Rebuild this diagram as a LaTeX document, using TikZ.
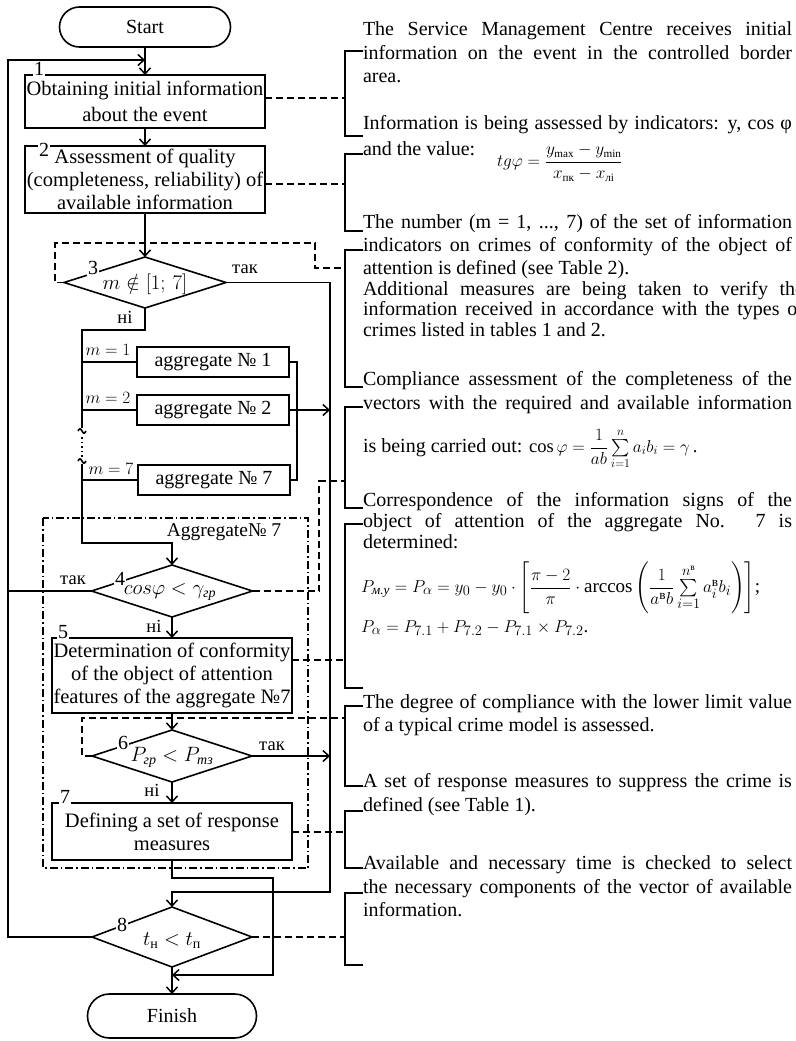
\documentclass[tikz,border=0pt]{standalone}
\usepackage{amsmath}
\usepackage{fontspec}
\setmainfont{Liberation Serif}
\usetikzlibrary{shapes.geometric,arrows.meta,calc}
\newcommand\jline[3]{\node[rt] (#1) at (363,#2) {\makebox[429pt][s]{#3}};}
\newcommand\wline[3]{\node[rt] (#1) at (363,#2) {\makebox[441pt][s]{#3}};}
\newcommand\lline[3]{\node[rt] (#1) at (363,#2) {#3};}
\tikzset{
  x=1pt,y=-1pt,
  every node/.style={inner sep=0pt,outer sep=0pt},
  ln/.style={line width=1.6pt},
  arr/.style={line width=1.6pt,-{Straight Barb[length=6pt,width=11pt,line width=1.5pt]}},
  dsh/.style={line width=1.3pt,dash pattern=on 7pt off 4pt},
  dashdot/.style={line width=1.3pt,dash pattern=on 8pt off 3pt on 1.5pt off 3pt},
  box/.style={draw,line width=1.6pt,align=center,minimum width=240pt,font=\fontsize{20.5}{23}\selectfont},
  term/.style={draw,line width=1.6pt,rounded corners=20pt,font=\fontsize{20}{24}\selectfont},
  dia/.style={draw,line width=1.6pt,diamond,aspect=3.1},
  agg/.style={draw,line width=1.6pt,minimum width=152pt,minimum height=30pt,font=\fontsize{20}{22}\selectfont},
  num/.style={fill=white,inner sep=1pt,font=\fontsize{20}{24}\selectfont},
  lab/.style={font=\fontsize{18.5}{22}\selectfont},
  mlab/.style={font=\fontsize{18}{22}\selectfont},
  dtext/.style={font=\fontsize{20}{24}\selectfont},
  rt/.style={anchor=mid west,font=\fontsize{20}{24}\selectfont},
  brk/.style={line width=1.6pt},
}
\begin{document}
\begin{tikzpicture}
\useasboundingbox (0,0) rectangle (795,1041);
% ---------------- flowchart nodes
\node[term,minimum width=171pt,minimum height=40pt] (start) at (145,27) {Start};
\node[box,minimum height=53pt,font=\fontsize{20.5}{26}\selectfont] (b1) at (145,101.5) {Obtaining initial information\\about the event};
\node[box,minimum height=67pt] (b2) at (145,179.5) {Assessment of quality\\(completeness, reliability) of\\available information};
\node[dia,minimum width=162pt,minimum height=51pt] (d3) at (145,282.5) {};
\node[dtext] (d3t) at (145,284) {$m\notin[1;\,7]$};
\node[agg] (a1) at (213,362) {aggregate № 1};
\node[agg] (a2) at (213,410) {aggregate № 2};
\node[agg] (a7) at (214,480) {aggregate № 7};
\node[dia,minimum width=161pt,minimum height=52pt] (d4) at (172,591) {};
\node[dtext] (d4t) at (170,592) {$cos\varphi < \gamma_{\text{\itshape гр}}$};
\node[box,minimum height=75pt] (b5) at (172,675.5) {Determination of conformity\\of the object of attention\\features of the aggregate №7};
\node[dia,minimum width=160pt,minimum height=52pt] (d6) at (172,756) {};
\node[dtext] (d6t) at (172,757) {$P_{\text{\itshape гр}} < P_{\text{\itshape тз}}$};
\node[box,minimum height=57pt] (b7) at (172,831.5) {Defining a set of response\\measures};
\node[dia,minimum width=160pt,minimum height=60pt] (d8) at (172,937) {};
\node[dtext] (d8t) at (172,941) {$t_{\text{н}} < t_{\text{п}}$};
\node[term,minimum width=169pt,minimum height=44pt,rounded corners=22pt] (fin) at (172,1016) {Finish};
% enclosure of aggregate 7
\draw[dashdot] (43,518) rectangle (308,868);
\node[font=\fontsize{19.5}{22}\selectfont] (aggt) at (224,532) {Aggregate№ 7};
% ---------------- coordinates
\coordinate (Jtop) at (145,60);
\coordinate (Ltop) at (8,60);
\coordinate (L8) at (8,937);
\coordinate (L4) at (8,591);
\coordinate (R3) at (330,282.5);
\coordinate (R3b) at (330,892);
\coordinate (J8) at (172,892);
\coordinate (n1) at (145,330);
\coordinate (bus0) at (82,330);
\coordinate (busA) at (82,428);
\coordinate (busB) at (82,464);
\coordinate (busC) at (82,543);
\coordinate (busD) at (172,543);
\coordinate (ra) at (297,362);
\coordinate (rb) at (297,480);
\coordinate (c1) at (172,878);
\coordinate (c2) at (273,878);
\coordinate (c3) at (273,975);
\coordinate (c4) at (172,975);
% ---------------- connectors
\draw[arr] (start.south) -- (b1.north);
\draw[arr] (b1.south) -- (b2.north);
\draw[arr] (b2.south) -- (d3.north);
\draw[arr] (d8.west) -- (L8) -- (Ltop) -- (Jtop);
\draw[ln] (d4.west) -- (L4);
\draw[arr] (d3.east) -- (R3) -- (R3b) -- (J8) -- (d8.north);
\draw[ln] (d3.south) -- (n1) -- (bus0) -- (busA);
\draw[ln] (78,431) sin (80,428.8) cos (82,431) sin (84,433.2) cos (86,431);
\draw[line width=1.6pt,dash pattern=on 1.6pt off 3pt] (82,437) -- (82,457);
\draw[ln] (78,461) sin (80,458.8) cos (82,461) sin (84,463.2) cos (86,461);
\draw[arr] (busB) -- (busC) -- (busD) -- (d4.north);
\draw[ln] (a1.west -| bus0) -- (a1.west);
\draw[ln] (a2.west -| bus0) -- (a2.west);
\draw[ln] (a7.west -| bus0) -- (a7.west);
\draw[ln] (a1.east) -- (ra) -- (rb) -- (a7.east);
\draw[arr] (a2.east) -- (a2.east -| R3);
\draw[arr] (d4.south) -- (b5.north);
\draw[arr] (b5.south) -- (d6.north);
\draw[arr] (d6.east) -- (d6.east -| R3);
\draw[arr] (d6.south) -- (b7.north);
\draw[arr] (b7.south) -- (c1) -- (c2) -- (c3) -- (c4);
\draw[arr] (d8.south) -- (fin.north);
% ---------------- labels
\node[num] (l1) at (39,69) {1};
\node[num] (l2) at (44,150) {2};
\node[num] (l3) at (93,268) {3};
\node[num] (l4) at (120,579) {4};
\node[num] (l5) at (63,632) {5};
\node[num] (l6) at (123,743) {6};
\node[num] (l7) at (65,797) {7};
\node[num] (l8) at (122,925) {8};
\node[lab] (t3) at (245,269) {так};
\node[lab] (h3) at (125,317) {ні};
\node[lab] (t4) at (73,580) {так};
\node[lab] (h4) at (154,626) {ні};
\node[lab] (t6) at (272,746) {так};
\node[lab] (h6) at (152,790) {ні};
\node[mlab] (m1) at (108,350) {$m = 1$};
\node[mlab] (m2) at (108,398) {$m = 2$};
\node[mlab] (m7) at (111,469) {$m = 7$};
% ---------------- brackets
\coordinate (k1) at (345,98);
\coordinate (k2) at (345,184);
\coordinate (k3) at (345,268);
\coordinate (k4) at (345,481);
\coordinate (k5) at (345,660);
\coordinate (k6) at (345,718);
\coordinate (k7) at (345,832);
\coordinate (k8) at (345,937);
\draw[brk] (363,51) -- (345,51) -- (345,136) -- (363,136);
\draw[brk] (363,154) -- (345,154) -- (345,231) -- (363,231);
\draw[brk] (363,250) -- (345,250) -- (345,387) -- (363,387);
\draw[brk] (363,407) -- (345,407) -- (345,508) -- (363,508);
\draw[brk] (363,524) -- (345,524) -- (345,688) -- (363,688);
\draw[brk] (363,706) -- (345,706) -- (345,786) -- (363,786);
\draw[brk] (363,811) -- (345,811) -- (345,868) -- (363,868);
\draw[brk] (363,893) -- (345,893) -- (345,965) -- (363,965);
% dashed links
\draw[dsh] (b1.east |- k1) -- (k1);
\draw[dsh] (b2.east |- k2) -- (k2);
\draw[dsh] (d3.west) -- (55,282.5) -- (55,243) -- (315,243) -- (315,268) -- (k3);
\draw[dsh] (d4.east) -- (319,591) -- (319,481) -- (k4);
\draw[dsh] (b5.east |- k5) -- (k5);
\draw[dsh] (d6.west) -- (82,756) -- (82,718) -- (k6);
\draw[dsh] (b7.east |- k7) -- (k7);
\draw[dsh] (d8.east) -- (k8);
% ---------------- right texts
\jline{p1a}{33}{The Service Management Centre receives initial}
\jline{p1b}{57}{information on the event in the controlled border}
\lline{p1c}{80}{area.}
\jline{p2a}{127}{Information is being assessed by indicators: y, cos φ}
\lline{p2b}{153}{and the value:}
\node[anchor=west,font=\fontsize{16}{19}\selectfont] (f1) at (497,163) {$\displaystyle tg\varphi=\frac{y_{\max}-y_{\min}}{x_{\text{пк}}-x_{\text{лі}}}$};
\jline{p3a}{226}{The number (m = 1, ..., 7) of the set of information}
\jline{p3b}{249}{indicators on crimes of conformity of the object of}
\lline{p3c}{272}{attention is defined (see Table 2).}
\wline{p3d}{293}{Additional measures are being taken to verify the}
\wline{p3e}{313}{information received in accordance with the types of}
\lline{p3f}{334}{crimes listed in tables 1 and 2.}
\jline{p4a}{383}{Compliance assessment of the completeness of the}
\jline{p4b}{407}{vectors with the required and available information}
\lline{p4c}{450}{is being carried out: {\fontsize{18.5}{20}\selectfont$\cos\varphi = \dfrac{1}{ab}\sum\limits_{i=1}^{n} a_i b_i = \gamma$\,.}}
\jline{p5a}{504}{Correspondence of the information signs of the}
\jline{p5b}{525}{object of attention of the aggregate No. 7 is}
\lline{p5c}{546}{determined:}
\node[anchor=mid west,font=\fontsize{19}{21}\selectfont] (p5d) at (361,590) {$P_{\text{\itshape м.у}} = P_{\alpha} = y_0 - y_0\cdot\left[\dfrac{\pi-2}{\pi}\cdot\arccos\left(\dfrac{1}{a^{\text{в}}b}\sum\limits_{i=1}^{n^{\text{в}}} a^{\text{в}}_i b_i\right)\right]$;};
\node[anchor=mid west,font=\fontsize{19}{21}\selectfont] (p5e) at (361,630) {$P_{\alpha} = P_{7.1} + P_{7.2} - P_{7.1}\times P_{7.2}$.};
\jline{p6a}{706}{The degree of compliance with the lower limit value}
\lline{p6b}{729}{of a typical crime model is assessed.}
\jline{p7a}{785}{A set of response measures to suppress the crime is}
\lline{p7b}{809}{defined (see Table 1).}
\jline{p8a}{867}{Available and necessary time is checked to select}
\jline{p8b}{891}{the necessary components of the vector of available}
\lline{p8c}{914}{information.}
\end{tikzpicture}
\end{document}
